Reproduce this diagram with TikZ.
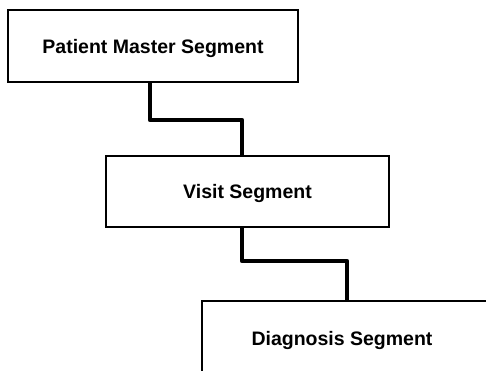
\documentclass[tikz,border=0pt]{standalone}
\usepackage{fontspec}
\setmainfont{Liberation Sans}
\begin{document}
\begin{tikzpicture}[x=1pt,y=1pt,
  segbox/.style={draw, line width=2.2pt, rectangle, inner sep=0pt},
  segtext/.style={font=\bfseries\fontsize{19.5}{23}\selectfont, inner sep=0pt, text depth=0pt},
  link/.style={line width=4.5pt, line join=round}]
  \useasboundingbox (0,0) rectangle (486,-371);
  \clip (0,0) rectangle (486,-371);

  % upper segments of the hierarchy
  \node[segbox, segtext, minimum width=290pt, minimum height=72pt] (pm) at (153,-46) {Patient Master Segment};
  \node[segbox, segtext, minimum width=283pt, minimum height=71pt] (visit) at (247.5,-191.5) {Visit Segment};

  % lowest segment runs past the right and bottom edges
  \node[segbox, minimum width=340pt, minimum height=110pt, anchor=north west] (diag) at (201,-300) {};
  \node[segtext] (diagtext) at (342,-338) {Diagnosis Segment};

  % parent-child links
  \draw[link] ([xshift=-3pt]pm.south) -- ++(0,-37) -| ([xshift=-5.5pt]visit.north);
  \draw[link] ([xshift=-5.5pt]visit.south) -- ++(0,-33) -| ([xshift=146pt]diag.north west);
\end{tikzpicture}
\end{document}
